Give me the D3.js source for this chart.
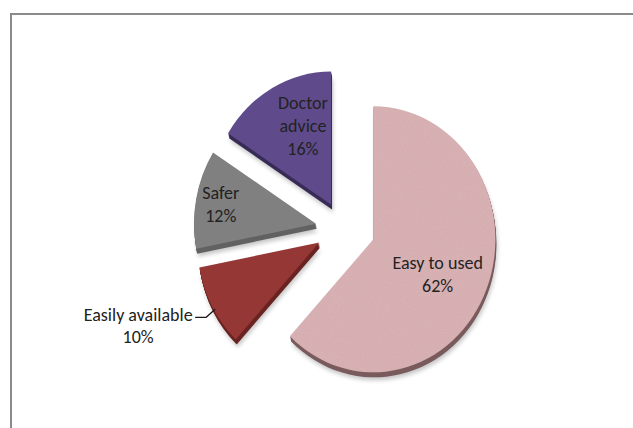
<!DOCTYPE html>
<html>
<head>
<meta charset="utf-8">
<script src="https://cdn.jsdelivr.net/npm/d3@7"></script>
<style>
  html, body { margin: 0; padding: 0; background: #fff; }
  svg { display: block; }
  text { font-family: Carlito, Calibri, Lato, "Open Sans", sans-serif; font-size: 18px; fill: #222; }
</style>
</head>
<body>
<svg id="chart" width="633" height="428"></svg>
<script>
// ---- data ----
const categories = ["Easy to used", "Easily available", "Safer", "Doctor advice"];
const values = [62, 10, 12, 16];
const topColors = ["#dbb3b6", "#953735", "#808080", "#5f4b8b"];
const sideColors = ["#7a5b5d", "#6a2422", "#626262", "#392d57"];

// ---- layout ----
const W = 633, H = 428;
const CX = 345.5, CY = 229;      // pie centre
const RX = 122, RY = 133;        // ellipse radii (tilted pie)
const EXPX = 30, EXPY = 28;      // explosion distance
const DEPTH = 5;                 // 3-D thickness
const SX = RX / RY;
// label placement: [radius fraction, angle shift in degrees], null = outside with leader
const labelLayout = {
  "Easy to used": [0.60, 7],
  "Easily available": null,
  "Safer": [0.79, -2],
  "Doctor advice": [0.61, 6.6]
};
const lineH = 23;

const svg = d3.select("#chart");

// frame
svg.append("rect")
  .attr("x", 11).attr("y", 14).attr("width", W + 20).attr("height", H + 20)
  .attr("fill", "none").attr("stroke", "#8a8a8a").attr("stroke-width", 2);

const defs = svg.append("defs");
defs.append("filter").attr("id", "shadow").attr("x", "-20%").attr("y", "-20%").attr("width", "140%").attr("height", "140%")
  .append("feGaussianBlur").attr("stdDeviation", 2.2);

const noise = defs.append("filter").attr("id", "noise").attr("x", "0").attr("y", "0").attr("width", "100%").attr("height", "100%");
noise.append("feTurbulence").attr("type", "fractalNoise").attr("baseFrequency", 0.8).attr("numOctaves", 2).attr("seed", 3).attr("result", "n");
noise.append("feColorMatrix").attr("in", "n").attr("type", "matrix")
  .attr("values", "0 0 0 0 0.45  0 0 0 0 0.3  0 0 0 0 0.32  0 0 0 0.35 -0.05").attr("result", "nc");
noise.append("feComposite").attr("in", "nc").attr("in2", "SourceGraphic").attr("operator", "in").attr("result", "nm");
const merge = noise.append("feMerge");
merge.append("feMergeNode").attr("in", "SourceGraphic");
merge.append("feMergeNode").attr("in", "nm");

const pie = d3.pie().sort(null).value(d => d);
const arcs = pie(values);
const arc = d3.arc().innerRadius(0).outerRadius(RY);

function vertex(a) {
  const mid = (a.startAngle + a.endAngle) / 2;
  return [CX + EXPX * Math.sin(mid), CY - EXPY * Math.cos(mid)];
}

// soft shadow
svg.append("g").selectAll("path").data(arcs).join("path")
  .attr("d", arc)
  .attr("transform", d => { const [vx, vy] = vertex(d); return `translate(${vx + 2},${vy + DEPTH + 3}) scale(${SX},1)`; })
  .attr("fill", "#000").attr("opacity", 0.22).attr("filter", "url(#shadow)");

// sides (extrusion)
const sides = svg.append("g");
for (let k = DEPTH; k >= 1; k--) {
  sides.append("g").selectAll("path").data(arcs).join("path")
    .attr("d", arc)
    .attr("transform", d => { const [vx, vy] = vertex(d); return `translate(${vx + k * 0.2},${vy + k}) scale(${SX},1)`; })
    .attr("fill", (d, i) => sideColors[i]);
}

// top faces
svg.append("g").selectAll("path").data(arcs).join("path")
  .attr("d", arc)
  .attr("transform", d => { const [vx, vy] = vertex(d); return `translate(${vx},${vy}) scale(${SX},1)`; })
  .attr("fill", (d, i) => topColors[i])
  .attr("filter", (d, i) => i === 0 ? "url(#noise)" : null);

// labels
const total = d3.sum(values);
const fmt = d3.format(".0%");
const lab = svg.append("g");
arcs.forEach((a, i) => {
  const name = categories[i];
  const pct = fmt(values[i] / total);
  const [vx, vy] = vertex(a);
  const mid = (a.startAngle + a.endAngle) / 2;
  const lay = labelLayout[name];
  if (lay) {
    const ang = mid + lay[1] * Math.PI / 180;
    const x = vx + lay[0] * RX * Math.sin(ang);
    const y = vy - lay[0] * RY * Math.cos(ang);
    const words = name === "Doctor advice" ? ["Doctor", "advice"] : [name];
    const lines = words.concat([pct]);
    const y0 = y - (lines.length - 1) * lineH / 2 + 3;
    const t = lab.append("text").attr("text-anchor", "middle");
    lines.forEach((s, j) => t.append("tspan").attr("x", x).attr("y", y0 + j * lineH).text(s));
  } else {
    const px = vx + 0.99 * RX * Math.sin(mid - 0.03);
    const py = vy - 0.99 * RY * Math.cos(mid - 0.03);
    const p1 = [px - 9, py + 8];
    const p2 = [p1[0] - 11, p1[1]];
    lab.append("path")
      .attr("d", d3.line()([[px, py], p1, p2]))
      .attr("fill", "none").attr("stroke", "#1a1a1a").attr("stroke-width", 1.3);
    const x = p2[0] - 57;
    const t = lab.append("text").attr("text-anchor", "middle");
    t.append("tspan").attr("x", x).attr("y", p2[1] + 4).text(name);
    t.append("tspan").attr("x", x).attr("y", p2[1] + 4 + lineH - 1).text(pct);
  }
});
</script>
</body>
</html>
